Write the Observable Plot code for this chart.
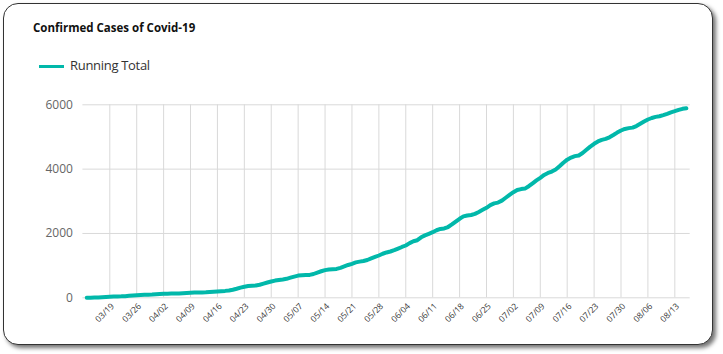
<!DOCTYPE html>
<html><head><meta charset="utf-8">
<script src="https://cdn.jsdelivr.net/npm/d3@7"></script>
<script src="https://cdn.jsdelivr.net/npm/@observablehq/plot@0.6"></script>
<style>
html,body{margin:0;padding:0;background:#fff;}
body{width:723px;height:354px;position:relative;overflow:hidden;font-family:"Open Sans",sans-serif;}
#card{position:absolute;left:3px;top:3px;width:708px;height:340px;border:1.5px solid #333;border-radius:15px;box-shadow:3px 3px 4px rgba(0,0,0,0.55);background:#fff;}
#title{position:absolute;left:33px;top:21.5px;font-size:11.5px;line-height:12px;font-weight:700;color:#111;white-space:nowrap;}
#legend-swatch{position:absolute;left:39px;top:65px;width:25px;height:3px;background:#01B8AA;}
#legend-text{position:absolute;left:70px;top:58.5px;font-size:13px;line-height:13px;color:#333;white-space:nowrap;letter-spacing:-0.3px;}
#chart{position:absolute;left:0;top:0;}
</style>
</head><body>
<div id="card"></div>
<div id="title">Confirmed Cases of Covid-19</div>
<div id="legend-swatch"></div>
<div id="legend-text">Running Total</div>
<div id="chart"></div>
<script>
const seriesName = "Running Total";
const startDate = "2020-03-13";
const runningTotal = [
  0,4,8,12,18,24,30,
  38,42,45,51,61,71,80,
  87,91,94,99,108,116,124,
  129,131,133,137,143,149,155,
  162,165,167,172,180,188,196,
  205,215,228,250,280,315,345,
  365,375,385,405,440,475,507,
  535,555,570,590,625,660,690,
  700,705,712,740,785,825,860,
  880,890,898,930,975,1020,1057,
  1100,1125,1145,1175,1225,1270,1315,
  1370,1410,1440,1480,1530,1580,1626,
  1700,1760,1790,1880,1940,1990,2040,
  2100,2140,2155,2200,2280,2370,2456,
  2530,2560,2575,2610,2670,2735,2798,
  2880,2935,2960,3020,3110,3200,3283,
  3350,3380,3395,3470,3560,3650,3731,
  3820,3880,3925,3990,4090,4200,4295,
  4360,4405,4425,4500,4600,4700,4788,
  4860,4910,4940,4990,5060,5135,5201,
  5250,5275,5290,5340,5410,5480,5543,
  5590,5625,5645,5680,5720,5765,5801,
  5840,5875,5894
];
const xTickLabels = ["03/19","03/26","04/02","04/09","04/16","04/23","04/30","05/07","05/14","05/21","05/28",
  "06/04","06/11","06/18","06/25","07/02","07/09","07/16","07/23","07/30","08/06","08/13"];
const yTicks = [0, 2000, 4000, 6000];
const xDomain = ["2020-03-12", "2020-08-17"];

const start = new Date(startDate);
const data = runningTotal.map((v, i) => ({date: d3.utcDay.offset(start, i), value: v}));
const tickDates = xTickLabels.map(s => new Date("2020-" + s.replace("/", "-")));
const labelOf = new Map(tickDates.map((d, i) => [+d, xTickLabels[i]]));

const chart = Plot.plot({
  width: 723, height: 354,
  marginLeft: 82.4, marginRight: 33.3, marginTop: 104.3, marginBottom: 56.7,
  style: {background: "transparent", fontFamily: "Open Sans, sans-serif"},
  x: {type: "utc", domain: xDomain.map(s => new Date(s))},
  y: {domain: [0, 6000]},
  marks: [
    Plot.gridX(tickDates, {stroke: "#d9d9d9", strokeOpacity: 1}),
    Plot.gridY(yTicks, {stroke: "#d9d9d9", strokeOpacity: 1}),
    Plot.axisY(yTicks, {tickSize: 0, tickPadding: 10, fontSize: 12, fill: "#666", label: null,
      tickFormat: d => String(d)}),
    Plot.axisX(tickDates, {tickSize: 0, tickPadding: 7, dx: 3, tickRotate: -45, fontSize: 8.5, fill: "#333",
      tickFormat: d => labelOf.get(+d), label: null}),
    Plot.line(data, {x: "date", y: "value", stroke: "#01B8AA", strokeWidth: 4,
      strokeLinecap: "round", strokeLinejoin: "round"})
  ]
});
document.getElementById("chart").appendChild(chart);
</script>
</body></html>
